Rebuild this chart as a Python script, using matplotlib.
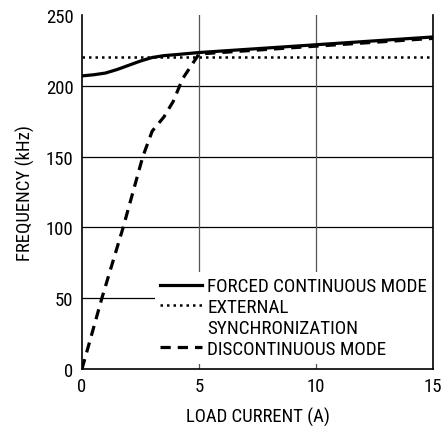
import matplotlib
matplotlib.use("Agg")
import matplotlib.pyplot as plt
from matplotlib import font_manager
from matplotlib.lines import Line2D

names = {f.name for f in font_manager.fontManager.ttflist}
fam = next((n for n in ["Roboto Condensed", "Archivo Narrow", "Liberation Sans Narrow",
                        "PT Sans Narrow", "DejaVu Sans"] if n in names), "DejaVu Sans")
plt.rcParams['font.family'] = [fam, 'DejaVu Sans']
if fam == "DejaVu Sans":
    plt.rcParams['font.stretch'] = 'condensed'

# data
fc_x = [0, 0.5, 1.0, 1.5, 2.0, 2.5, 3.0, 3.5, 4.0, 5.0, 10.0, 15.0]
fc_y = [207, 207.8, 209, 211.5, 214.5, 217.5, 220, 221.3, 222, 223.5, 229, 234.5]
dcm_x = [0, 0.85, 1.76, 2.6, 3.0, 3.5, 3.9, 4.3, 5.0, 10.0, 15.0]
dcm_y = [0, 50, 100, 150, 168, 178, 189, 205, 222.5, 228, 233.5]
ext_x = [0, 15]
ext_y = [220, 220]
xticks = [0, 5, 10, 15]
yticks = [0, 50, 100, 150, 200, 250]

fig = plt.figure(figsize=(4.47, 4.27), dpi=100)
ax = fig.add_axes([0.1834, 0.1335, 0.7853, 0.829])
ax.set_xlim(0, 15)
ax.set_ylim(0, 250)

for y in yticks[1:-1]:
    ax.axhline(y, color='black', lw=0.9, zorder=1)
for x in xticks[1:-1]:
    ax.axvline(x, color='#555555', lw=0.9, zorder=1)

l1, = ax.plot(fc_x, fc_y, color='black', lw=2.3, zorder=3)
l2, = ax.plot(ext_x, ext_y, color='black', lw=1.8, linestyle=(0, (1, 1.6)), zorder=3)
l3, = ax.plot(dcm_x, dcm_y, color='black', lw=2.3, linestyle=(0, (3.2, 2.2)), zorder=3)
blank = Line2D([], [], color='none')

ax.spines['top'].set_visible(False)
for s in ['left', 'right', 'bottom']:
    ax.spines[s].set_linewidth(1.2)
    ax.spines[s].set_zorder(6)
ax.set_xticks(xticks)
ax.set_yticks(yticks)
ax.tick_params(length=0, labelsize=13.5, pad=6)
ax.set_xlabel('LOAD CURRENT (A)', fontsize=13.5, labelpad=8)
ax.set_ylabel('FREQUENCY (kHz)', fontsize=13.5, labelpad=8)

leg = ax.legend([l1, l2, blank, l3],
                ['FORCED CONTINUOUS MODE', 'EXTERNAL', 'SYNCHRONIZATION', 'DISCONTINUOUS MODE'],
                loc='lower right', frameon=True, fontsize=13.8, handlelength=2.15,
                handletextpad=0.3, labelspacing=0.15, borderpad=0.3,
                bbox_to_anchor=(1.0, 0.015), borderaxespad=0.0)
leg.get_frame().set_edgecolor('none')
leg.get_frame().set_facecolor('white')
leg.get_frame().set_alpha(1.0)
leg.set_zorder(5)

fig.savefig('out.png', dpi=100)
